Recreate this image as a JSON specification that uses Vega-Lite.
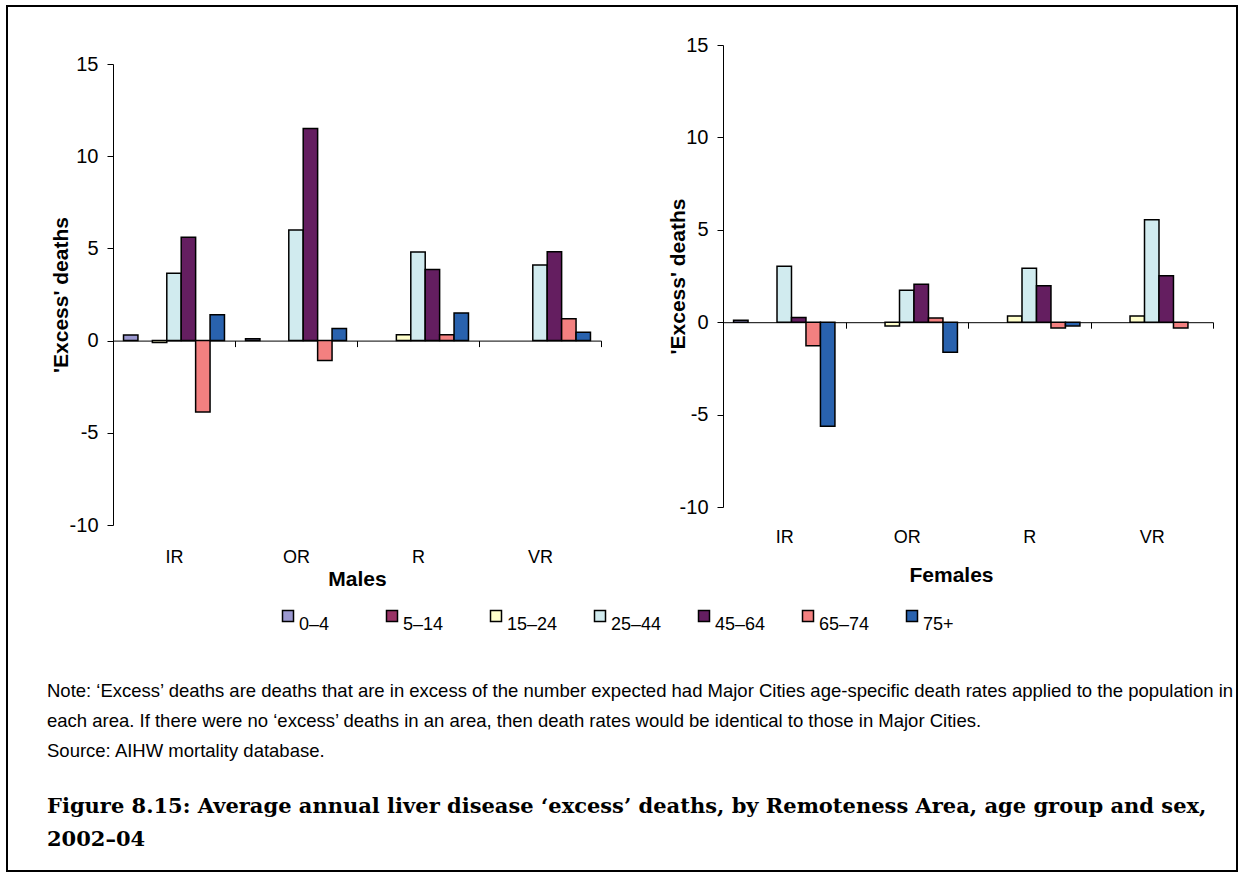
{
  "$schema": "https://vega.github.io/schema/vega-lite/v6.json",
  "width": 1230,
  "height": 865,
  "autosize": {"type": "none"},
  "padding": {"left": 7, "top": 6, "right": 3, "bottom": 4},
  "background": "white",
  "config": {
    "view": {"stroke": "black", "strokeWidth": 2},
    "font": "Liberation Sans",
    "axis": {"grid": false, "domainColor": "black", "tickColor": "black", "labelColor": "black", "titleColor": "black", "labelFont": "Liberation Sans", "titleFont": "Liberation Sans", "labelFontSize": 18, "titleFontSize": 21, "titleFontWeight": "bold", "tickSize": 6, "domainWidth": 1, "tickWidth": 1}
  },
  "title": {
    "text": ["Note: ‘Excess’ deaths are deaths that are in excess of the number expected had Major Cities age-specific death rates applied to the population in", "each area. If there were no ‘excess’ deaths in an area, then death rates would be identical to those in Major Cities.", "Source: AIHW mortality database."],
    "subtitle": ["Figure 8.15: Average annual liver disease ‘excess’ deaths, by Remoteness Area, age group and sex,", "2002–04"],
    "orient": "bottom", "frame": "group", "anchor": "start", "offset": -189, "dx": 40,
    "font": "Liberation Sans", "fontSize": 18.5, "fontWeight": "normal", "lineHeight": 30, "color": "black",
    "subtitleFont": "DejaVu Serif", "subtitleFontSize": 21, "subtitleFontWeight": "bold", "subtitleLineHeight": 33, "subtitleColor": "black", "subtitlePadding": 35
  },
  "data": {"values": [
    {"sex": "Males", "area": "IR", "age": "0–4", "value": 0.3},
    {"sex": "Males", "area": "IR", "age": "15–24", "value": -0.1},
    {"sex": "Males", "area": "IR", "age": "25–44", "value": 3.65},
    {"sex": "Males", "area": "IR", "age": "45–64", "value": 5.6},
    {"sex": "Males", "area": "IR", "age": "65–74", "value": -3.87},
    {"sex": "Males", "area": "IR", "age": "75+", "value": 1.4},
    {"sex": "Males", "area": "OR", "age": "0–4", "value": 0.1},
    {"sex": "Males", "area": "OR", "age": "25–44", "value": 6.0},
    {"sex": "Males", "area": "OR", "age": "45–64", "value": 11.5},
    {"sex": "Males", "area": "OR", "age": "65–74", "value": -1.08},
    {"sex": "Males", "area": "OR", "age": "75+", "value": 0.65},
    {"sex": "Males", "area": "R", "age": "15–24", "value": 0.32},
    {"sex": "Males", "area": "R", "age": "25–44", "value": 4.8},
    {"sex": "Males", "area": "R", "age": "45–64", "value": 3.85},
    {"sex": "Males", "area": "R", "age": "65–74", "value": 0.32},
    {"sex": "Males", "area": "R", "age": "75+", "value": 1.5},
    {"sex": "Males", "area": "VR", "age": "25–44", "value": 4.1},
    {"sex": "Males", "area": "VR", "age": "45–64", "value": 4.82},
    {"sex": "Males", "area": "VR", "age": "65–74", "value": 1.18},
    {"sex": "Males", "area": "VR", "age": "75+", "value": 0.45},
    {"sex": "Females", "area": "IR", "age": "0–4", "value": 0.1},
    {"sex": "Females", "area": "IR", "age": "25–44", "value": 3.03},
    {"sex": "Females", "area": "IR", "age": "45–64", "value": 0.25},
    {"sex": "Females", "area": "IR", "age": "65–74", "value": -1.28},
    {"sex": "Females", "area": "IR", "age": "75+", "value": -5.63},
    {"sex": "Females", "area": "OR", "age": "15–24", "value": -0.2},
    {"sex": "Females", "area": "OR", "age": "25–44", "value": 1.73},
    {"sex": "Females", "area": "OR", "age": "45–64", "value": 2.06},
    {"sex": "Females", "area": "OR", "age": "65–74", "value": 0.23},
    {"sex": "Females", "area": "OR", "age": "75+", "value": -1.62},
    {"sex": "Females", "area": "R", "age": "15–24", "value": 0.34},
    {"sex": "Females", "area": "R", "age": "25–44", "value": 2.92},
    {"sex": "Females", "area": "R", "age": "45–64", "value": 1.97},
    {"sex": "Females", "area": "R", "age": "65–74", "value": -0.31},
    {"sex": "Females", "area": "R", "age": "75+", "value": -0.2},
    {"sex": "Females", "area": "VR", "age": "15–24", "value": 0.34},
    {"sex": "Females", "area": "VR", "age": "25–44", "value": 5.54},
    {"sex": "Females", "area": "VR", "age": "45–64", "value": 2.51},
    {"sex": "Females", "area": "VR", "age": "65–74", "value": -0.31}
  ]},
  "layer": [
    {
      "transform": [{"filter": "datum.sex === 'Males'"}],
      "mark": {"type": "bar", "stroke": "black", "strokeWidth": 1.5},
      "encoding": {
        "x": {"field": "area", "type": "nominal", "sort": ["IR", "OR", "R", "VR"],
          "scale": {"domain": ["IR", "OR", "R", "VR"], "range": [106, 594], "paddingInner": 0, "paddingOuter": 0},
          "axis": {"orient": "bottom", "offset": -530.4, "title": "Males", "titlePadding": 27.5, "labelPadding": 202, "labelAngle": 0, "tickBand": "extent", "tickExtra": true}},
        "xOffset": {"field": "age", "type": "nominal",
          "scale": {"domain": ["0–4", "5–14", "15–24", "25–44", "45–64", "65–74", "75+"], "paddingOuter": 0.73, "paddingInner": 0}},
        "y": {"field": "value", "type": "quantitative",
          "scale": {"domain": [-10, 15], "range": [519, 58], "nice": false, "zero": false},
          "axis": {"orient": "left", "offset": -106, "values": [-10, -5, 0, 5, 10, 15], "title": "'Excess' deaths", "titlePadding": -2, "labelPadding": 9, "labelFontSize": 20, "labelExpr": "toString(datum.value)"}},
        "color": {"field": "age", "type": "nominal",
          "scale": {"domain": ["0–4", "5–14", "15–24", "25–44", "45–64", "65–74", "75+"], "range": ["#9B98D0", "#993366", "#FFFFCC", "#D1EBEF", "#641E60", "#F38080", "#2962AE"]},
          "legend": {"orient": "none", "legendX": 272, "legendY": 601, "direction": "horizontal", "columns": 7, "gridAlign": "all", "title": null, "symbolType": "square", "symbolSize": 121, "symbolStrokeColor": "black", "symbolStrokeWidth": 1.5, "symbolOpacity": 1, "labelFontSize": 18, "labelFont": "Liberation Sans", "labelColor": "black", "labelOffset": 2, "columnPadding": 33, "labelBaseline": "top", "padding": 0}}
      }
    },
    {
      "transform": [{"filter": "datum.sex === 'Females'"}],
      "mark": {"type": "bar", "stroke": "black", "strokeWidth": 1.5},
      "encoding": {
        "x": {"field": "area", "type": "nominal", "sort": ["IR", "OR", "R", "VR"],
          "scale": {"domain": ["IR", "OR", "R", "VR"], "range": [716, 1206], "paddingInner": 0, "paddingOuter": 0},
          "axis": {"orient": "bottom", "offset": -548.8, "title": "Females", "titlePadding": 42.5, "titleX": 944, "labelPadding": 200, "labelAngle": 0, "tickBand": "extent", "tickExtra": true}},
        "xOffset": {"field": "age", "type": "nominal",
          "scale": {"domain": ["0–4", "5–14", "15–24", "25–44", "45–64", "65–74", "75+"], "paddingOuter": 0.73, "paddingInner": 0}},
        "y": {"field": "value", "type": "quantitative",
          "scale": {"domain": [-10, 15], "range": [501, 39], "nice": false, "zero": false},
          "axis": {"orient": "left", "offset": -716, "values": [-10, -5, 0, 5, 10, 15], "title": "'Excess' deaths", "titlePadding": -9, "labelPadding": 9, "labelFontSize": 20, "labelExpr": "toString(datum.value)"}},
        "color": {"field": "age", "type": "nominal",
          "scale": {"domain": ["0–4", "5–14", "15–24", "25–44", "45–64", "65–74", "75+"], "range": ["#9B98D0", "#993366", "#FFFFCC", "#D1EBEF", "#641E60", "#F38080", "#2962AE"]}}
      }
    }
  ],
  "resolve": {"scale": {"x": "independent", "y": "independent", "xOffset": "independent"}, "axis": {"x": "independent", "y": "independent"}}
}
